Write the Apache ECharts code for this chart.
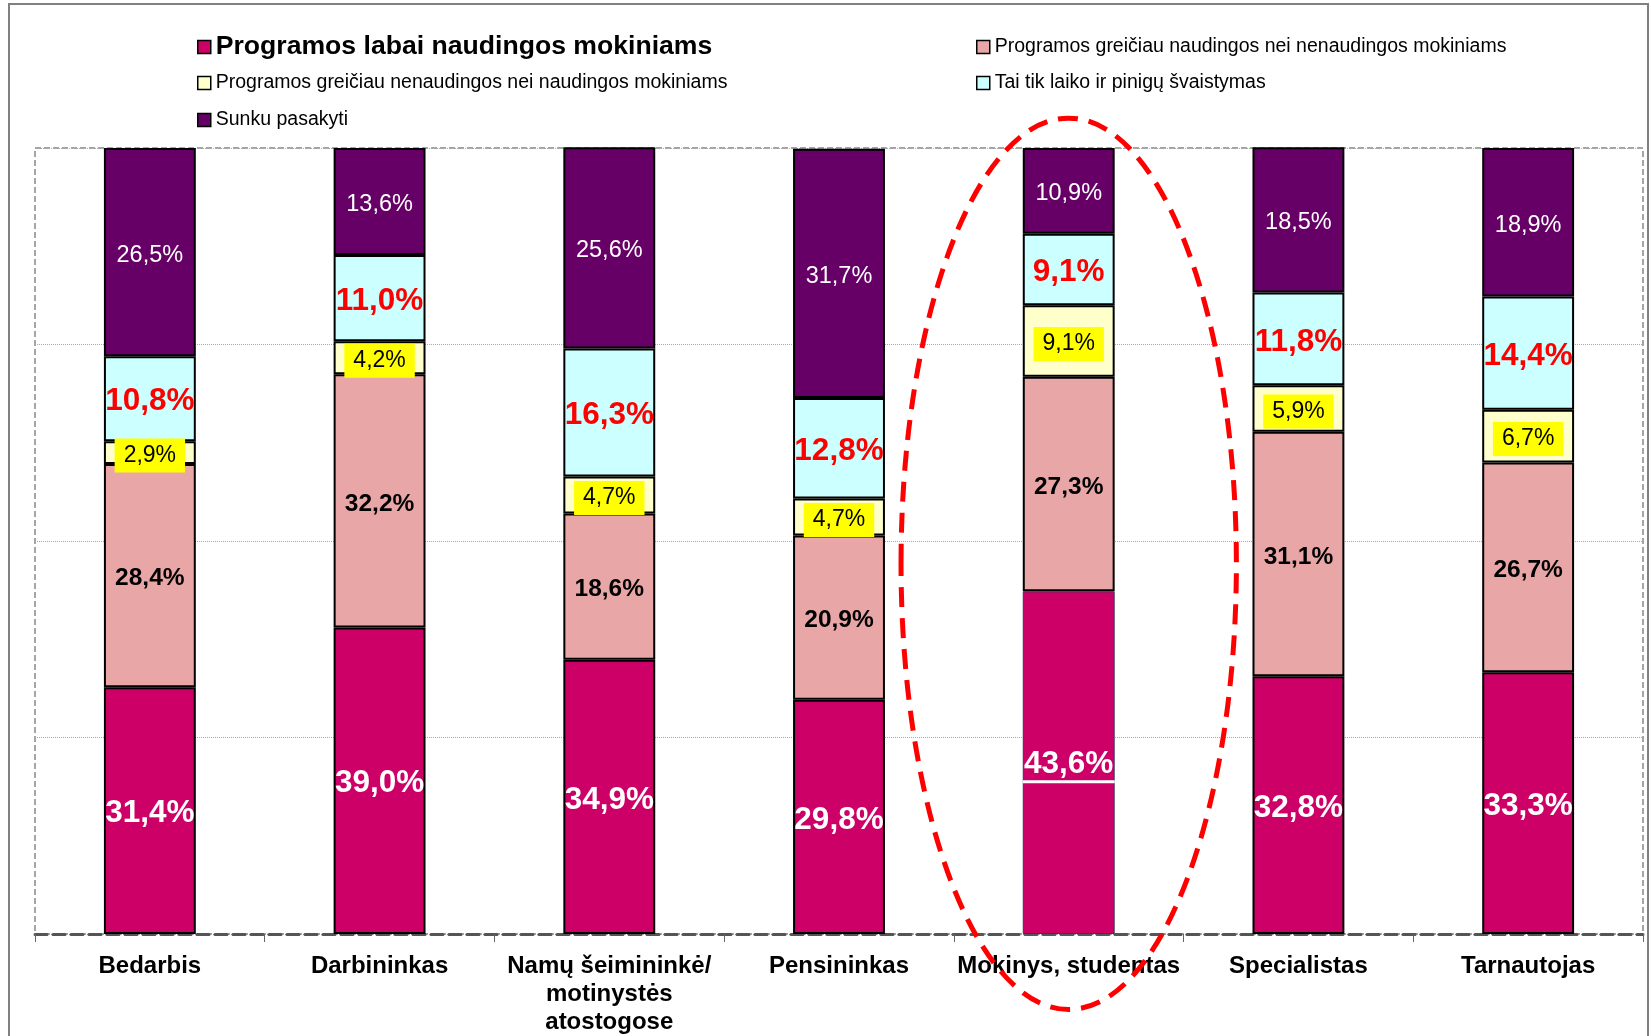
<!DOCTYPE html>
<html><head><meta charset="utf-8">
<script src="https://cdn.jsdelivr.net/npm/echarts@6/dist/echarts.min.js"></script>
<style>html,body{margin:0;padding:0;background:#fff}#c{width:1651px;height:1036px}</style>
</head><body><div id="c"></div>
<script>
const categories = ['Bedarbis', 'Darbininkas', 'Namų šeimininkė/\nmotinystės\natostogose', 'Pensininkas', 'Mokinys, studentas', 'Specialistas', 'Tarnautojas'];
const seriesNames = [
  'Programos labai naudingos mokiniams',
  'Programos greičiau naudingos nei nenaudingos mokiniams',
  'Programos greičiau nenaudingos nei naudingos mokiniams',
  'Tai tik laiko ir pinigų švaistymas',
  'Sunku pasakyti'
];
const labaiNaudingos = [31.4, 39.0, 34.9, 29.8, 43.6, 32.8, 33.3];
const greiciauNaudingos = [28.4, 32.2, 18.6, 20.9, 27.3, 31.1, 26.7];
const greiciauNenaudingos = [2.9, 4.2, 4.7, 4.7, 9.1, 5.9, 6.7];
const svaistymas = [10.8, 11.0, 16.3, 12.8, 9.1, 11.8, 14.4];
const sunkuPasakyti = [26.5, 13.6, 25.6, 31.7, 10.9, 18.5, 18.9];
const highlightCategory = 'Mokinys, studentas';

const FONT = '"Liberation Sans", Arial, sans-serif';
const colors = ['#CC0066', '#E9A6A6', '#FFFFCC', '#CCFFFF', '#660066'];
const hi = categories.indexOf(highlightCategory);
const fmt = v => v.toFixed(1).replace('.', ',') + '%';

const labelStyles = [
  {color: '#fff', fontWeight: 'bold', fontSize: 31.5},
  {color: '#000', fontWeight: 'bold', fontSize: 24.5},
  {color: '#000', fontWeight: 'normal', fontSize: 23, backgroundColor: '#FFFF00', padding: [6, 9, 5, 9]},
  {color: '#FF0000', fontWeight: 'bold', fontSize: 31.5},
  {color: '#fff', fontWeight: 'normal', fontSize: 23.5}
];
const seriesData = [labaiNaudingos, greiciauNaudingos, greiciauNenaudingos, svaistymas, sunkuPasakyti];

const series = seriesData.map((arr, si) => ({
  name: seriesNames[si],
  type: 'bar',
  stack: 'total',
  barWidth: '40%',
  itemStyle: {color: colors[si], borderColor: '#000', borderWidth: 2},
  label: Object.assign({
    show: true, position: 'inside', fontFamily: FONT, offset: [0, 3],
    formatter: p => (si === 0 && p.dataIndex === hi) ? '{a|' + fmt(p.value) + '}\n{u|}' : fmt(p.value),
    rich: si === 0 ? {
      a: {color: '#fff', fontWeight: 'bold', fontSize: 31.5, fontFamily: FONT, lineHeight: 32},
      u: {backgroundColor: '#fff', width: 92, height: 3}
    } : undefined
  }, labelStyles[si]),
  data: arr.map((v, i) => (si === 0 && i === hi) ? {value: v, itemStyle: {borderColor: '#333366', borderWidth: 1}} : v)
}));

const legendCommon = {
  orient: 'horizontal', padding: 0, itemWidth: 13, itemHeight: 13, itemGap: 0,
  icon: 'rect', selectedMode: false,
  itemStyle: {borderColor: '#000', borderWidth: 1.5},
  textStyle: {fontSize: 19.5, lineHeight: 20, color: '#000', fontFamily: FONT}
};

const option = {
  animation: false,
  backgroundColor: '#fff',
  textStyle: {fontFamily: FONT},
  legend: [
    Object.assign({}, legendCommon, {left: 197, top: 32, data: [{name: seriesNames[0], textStyle: {fontSize: 26.6, fontWeight: 'bold', lineHeight: 30, color: '#000', fontFamily: FONT}}]}),
    Object.assign({}, legendCommon, {left: 976, top: 37, data: [seriesNames[1]]}),
    Object.assign({}, legendCommon, {left: 197, top: 73, data: [seriesNames[2]]}),
    Object.assign({}, legendCommon, {left: 976, top: 73, data: [seriesNames[3]]}),
    Object.assign({}, legendCommon, {left: 197, top: 110, data: [seriesNames[4]]})
  ],
  grid: {
    left: 35, right: 8, top: 148, bottom: 101, containLabel: false,
    show: true, borderColor: '#888', borderWidth: 1.5, borderType: 'dashed', backgroundColor: 'transparent'
  },
  xAxis: {
    type: 'category',
    data: categories,
    axisLine: {show: true, lineStyle: {color: '#555', width: 3, type: 'dashed'}},
    axisTick: {show: true, length: 8, lineStyle: {color: '#666', width: 1}},
    axisLabel: {color: '#000', fontWeight: 'bold', fontSize: 24, lineHeight: 28, margin: 18, fontFamily: FONT, interval: 0}
  },
  yAxis: {
    type: 'value', min: 0, max: 100, interval: 25,
    axisLabel: {show: false}, axisLine: {show: false}, axisTick: {show: false},
    splitLine: {show: true, lineStyle: {color: '#aaa', type: 'dotted', width: 1}}
  },
  series: series
};

const chart = echarts.init(document.getElementById('c'));
chart.setOption(option);

const cx = chart.convertToPixel({xAxisIndex: 0}, hi);
const catW = chart.convertToPixel({xAxisIndex: 0}, hi + 1) - cx;
const y0 = chart.convertToPixel({yAxisIndex: 0}, 0);
const y100 = chart.convertToPixel({yAxisIndex: 0}, 100);
const cy = chart.convertToPixel({yAxisIndex: 0}, 47.1);
const plotH = y0 - y100;

chart.setOption({
  graphic: [
    {type: 'rect', silent: true, z: 0, shape: {x: 9, y: 4, width: 1639, height: 1040},
      style: {fill: 'none', stroke: '#808080', lineWidth: 2}},
    {type: 'ellipse', silent: true, z: 100, shape: {cx: cx, cy: cy, rx: 0.73 * catW, ry: 0.567 * plotH},
      style: {fill: 'none', stroke: '#FF0000', lineWidth: 5, lineDash: [20, 11]}}
  ]
});
</script>
</body></html>
